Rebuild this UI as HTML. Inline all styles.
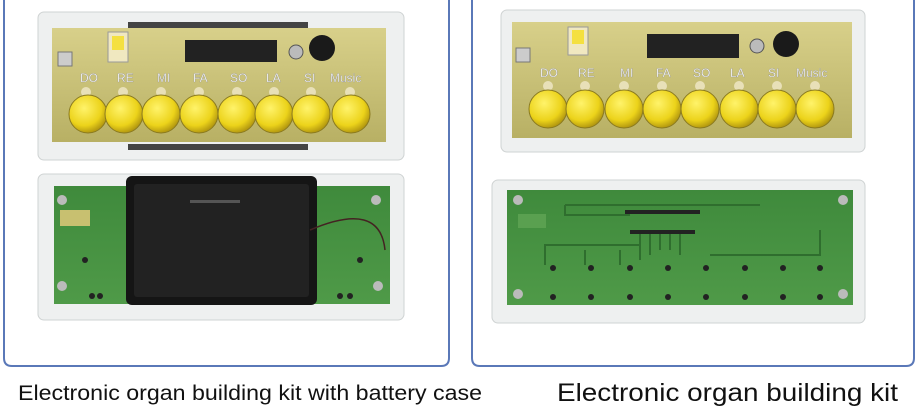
<!DOCTYPE html>
<html><head><meta charset="utf-8"><style>
html,body{margin:0;padding:0;background:#fff;}
svg{display:block;}
text{font-family:"Liberation Sans",sans-serif;}
</style></head><body>
<svg width="918" height="410" viewBox="0 0 918 410" xmlns="http://www.w3.org/2000/svg">
<defs>
<radialGradient id="btn" cx="40%" cy="35%" r="65%"><stop offset="0" stop-color="#fff36a"/><stop offset="0.7" stop-color="#ecd31a"/><stop offset="1" stop-color="#b59a10"/></radialGradient>
<linearGradient id="pcb" x1="0" y1="0" x2="0" y2="1"><stop offset="0" stop-color="#d8d08a"/><stop offset="1" stop-color="#b8b064"/></linearGradient>
<linearGradient id="grn" x1="0" y1="0" x2="0" y2="1"><stop offset="0" stop-color="#3f8a3c"/><stop offset="1" stop-color="#4f9a48"/></linearGradient>
</defs>
<rect width="918" height="410" fill="#fff"/>
<!-- panels -->
<path d="M4 0 V358 Q4 366 12 366 H441 Q449 366 449 358 V0" fill="none" stroke="#5a78b8" stroke-width="2"/>
<path d="M472 0 V358 Q472 366 480 366 H906 Q914 366 914 358 V0" fill="none" stroke="#5a78b8" stroke-width="2"/>

<!-- LEFT TOP -->
<rect x="38" y="12" width="366" height="148" rx="6" fill="#eef0f0" stroke="#cfd3d3"/>
<rect x="128" y="22" width="180" height="6" fill="#444"/>
<rect x="128" y="144" width="180" height="6" fill="#444"/>
<rect x="52" y="28" width="334" height="114" fill="url(#pcb)"/>
<rect x="108" y="32" width="20" height="30" fill="#f0e8c0" stroke="#999"/>
<rect x="112" y="36" width="12" height="14" fill="#f4e040"/>
<rect x="185" y="40" width="92" height="22" fill="#222"/>
<circle cx="296" cy="52" r="7" fill="#bbb" stroke="#555"/>
<circle cx="322" cy="48" r="13" fill="#1a1a1a"/>
<rect x="58" y="52" width="14" height="14" fill="#ccc" stroke="#777"/>
<g font-size="12" fill="#fff" stroke="#888" stroke-width="0.3">
<text x="80" y="82">DO</text><text x="117" y="82">RE</text><text x="157" y="82">MI</text><text x="193" y="82">FA</text><text x="230" y="82">SO</text><text x="266" y="82">LA</text><text x="304" y="82">SI</text><text x="330" y="82">Music</text>
</g>
<g fill="#e8e0b8">
<circle cx="86" cy="92" r="5"/><circle cx="123" cy="92" r="5"/><circle cx="161" cy="92" r="5"/><circle cx="199" cy="92" r="5"/><circle cx="237" cy="92" r="5"/><circle cx="274" cy="92" r="5"/><circle cx="311" cy="92" r="5"/><circle cx="350" cy="92" r="5"/>
</g>
<g fill="url(#btn)" stroke="#8a7a20" stroke-width="1">
<circle cx="88" cy="114" r="19"/><circle cx="124" cy="114" r="19"/><circle cx="161" cy="114" r="19"/><circle cx="199" cy="114" r="19"/><circle cx="237" cy="114" r="19"/><circle cx="274" cy="114" r="19"/><circle cx="311" cy="114" r="19"/><circle cx="351" cy="114" r="19"/>
</g>

<!-- LEFT BOTTOM -->
<rect x="38" y="174" width="366" height="146" rx="6" fill="#eef0f0" stroke="#cfd3d3"/>
<rect x="54" y="186" width="336" height="118" fill="url(#grn)"/>
<rect x="60" y="210" width="30" height="16" fill="#c8c070"/>
<g fill="#222"><circle cx="85" cy="260" r="3"/><circle cx="92" cy="296" r="3"/><circle cx="360" cy="260" r="3"/><circle cx="350" cy="296" r="3"/><circle cx="340" cy="296" r="3"/><circle cx="100" cy="296" r="3"/></g>
<g fill="#bbb"><circle cx="62" cy="200" r="5"/><circle cx="376" cy="200" r="5"/><circle cx="62" cy="286" r="5"/><circle cx="378" cy="286" r="5"/></g>
<rect x="126" y="176" width="191" height="129" rx="6" fill="#151515"/>
<rect x="134" y="184" width="175" height="113" rx="3" fill="#222"/>
<rect x="190" y="200" width="50" height="3" fill="#555"/>
<path d="M310 230 Q380 200 385 250" fill="none" stroke="#422" stroke-width="1.5"/>

<!-- RIGHT TOP -->
<rect x="501" y="10" width="364" height="142" rx="6" fill="#eef0f0" stroke="#cfd3d3"/>
<rect x="512" y="22" width="340" height="116" fill="url(#pcb)"/>
<rect x="568" y="27" width="20" height="28" fill="#f0e8c0" stroke="#999"/>
<rect x="572" y="30" width="12" height="14" fill="#f4e040"/>
<rect x="647" y="34" width="92" height="24" fill="#222"/>
<circle cx="757" cy="46" r="7" fill="#bbb" stroke="#555"/>
<circle cx="786" cy="44" r="13" fill="#1a1a1a"/>
<rect x="516" y="48" width="14" height="14" fill="#ccc" stroke="#777"/>
<g font-size="12" fill="#fff" stroke="#888" stroke-width="0.3">
<text x="540" y="77">DO</text><text x="578" y="77">RE</text><text x="620" y="77">MI</text><text x="656" y="77">FA</text><text x="693" y="77">SO</text><text x="730" y="77">LA</text><text x="768" y="77">SI</text><text x="796" y="77">Music</text>
</g>
<g fill="#e8e0b8">
<circle cx="548" cy="86" r="5"/><circle cx="585" cy="86" r="5"/><circle cx="624" cy="86" r="5"/><circle cx="662" cy="86" r="5"/><circle cx="700" cy="86" r="5"/><circle cx="739" cy="86" r="5"/><circle cx="777" cy="86" r="5"/><circle cx="815" cy="86" r="5"/>
</g>
<g fill="url(#btn)" stroke="#8a7a20" stroke-width="1">
<circle cx="548" cy="109" r="19"/><circle cx="585" cy="109" r="19"/><circle cx="624" cy="109" r="19"/><circle cx="662" cy="109" r="19"/><circle cx="700" cy="109" r="19"/><circle cx="739" cy="109" r="19"/><circle cx="777" cy="109" r="19"/><circle cx="815" cy="109" r="19"/>
</g>

<!-- RIGHT BOTTOM -->
<rect x="492" y="180" width="373" height="143" rx="6" fill="#eef0f0" stroke="#cfd3d3"/>
<rect x="507" y="190" width="346" height="115" fill="url(#grn)"/>
<g fill="none" stroke="#2f6e2e" stroke-width="2">
<path d="M565 205 H760 M565 205 V215 H630"/><path d="M640 230 V260 M650 230 V255 M660 230 V250 M670 230 V250 M680 230 V255"/>
<path d="M545 265 V245 H640 M585 265 V250 M620 265 V250 M710 255 H820 V230"/>
</g>
<g fill="#222">
<rect x="625" y="210" width="75" height="4"/><rect x="630" y="230" width="65" height="4"/>
<circle cx="553" cy="268" r="3"/><circle cx="591" cy="268" r="3"/><circle cx="630" cy="268" r="3"/><circle cx="668" cy="268" r="3"/><circle cx="706" cy="268" r="3"/><circle cx="745" cy="268" r="3"/><circle cx="783" cy="268" r="3"/><circle cx="820" cy="268" r="3"/>
<circle cx="553" cy="297" r="3"/><circle cx="591" cy="297" r="3"/><circle cx="630" cy="297" r="3"/><circle cx="668" cy="297" r="3"/><circle cx="706" cy="297" r="3"/><circle cx="745" cy="297" r="3"/><circle cx="783" cy="297" r="3"/><circle cx="820" cy="297" r="3"/>
</g>
<rect x="518" y="214" width="28" height="14" fill="#5aa050"/>
<g fill="#bbb"><circle cx="518" cy="200" r="5"/><circle cx="843" cy="200" r="5"/><circle cx="518" cy="294" r="5"/><circle cx="843" cy="294" r="5"/></g>

<!-- captions -->
<text x="18" y="400" font-size="21" fill="#111" textLength="464" lengthAdjust="spacingAndGlyphs">Electronic organ building kit with battery case</text>
<text x="557" y="401" font-size="25" fill="#111" textLength="341" lengthAdjust="spacingAndGlyphs">Electronic organ building kit</text>
</svg>
</body></html>
